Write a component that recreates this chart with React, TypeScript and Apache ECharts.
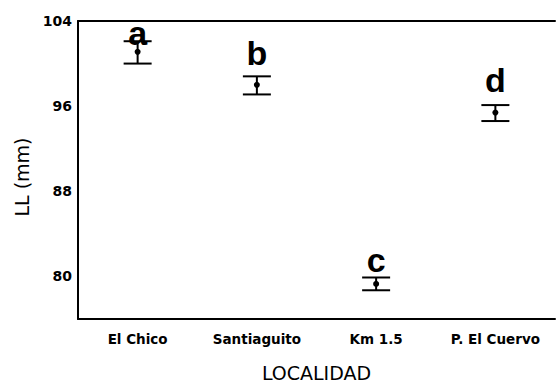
import React, { useEffect, useRef } from "react";
import * as echarts from "echarts";

const categories = ["El Chico", "Santiaguito", "Km 1.5", "P. El Cuervo"];
const means = [101.1, 98.0, 79.3, 95.4];
const lowers = [100.0, 97.1, 78.7, 94.6];
const uppers = [102.1, 98.8, 79.9, 96.1];
const letters = ["a", "b", "c", "d"];
const letterValues = [102.9, 101.0, 81.5, 98.5];
const yTicks = [80, 88, 96, 104];

const tickFont = "'DejaVu Sans', sans-serif";

export default function App() {
  const ref = useRef<HTMLDivElement>(null);
  useEffect(() => {
    document.body.style.margin = "0";
    const chart = echarts.init(ref.current!, null, { renderer: "svg" });
    const axisLine = { show: true, lineStyle: { color: "#000", width: 2 } };
    chart.setOption({
      animation: false,
      backgroundColor: "#fff",
      grid: { left: 78, right: 2, top: 21, bottom: 66 },
      xAxis: [
        {
          type: "category",
          data: categories,
          boundaryGap: true,
          axisLine,
          axisTick: { show: false },
          axisLabel: { color: "#000", fontSize: 13.5, fontFamily: tickFont, fontWeight: "bold", margin: 13 },
          name: "LOCALIDAD",
          nameLocation: "middle",
          nameGap: 44,
          nameTextStyle: { color: "#000", fontSize: 19, fontFamily: tickFont },
          splitLine: { show: false },
        },
        {
          type: "category",
          data: categories,
          position: "top",
          axisLine,
          axisTick: { show: false },
          axisLabel: { show: false },
          splitLine: { show: false },
        },
      ],
      yAxis: {
        type: "value",
        min: 76,
        max: 104,
        axisLine,
        axisTick: { show: false },
        splitLine: { show: false },
        axisLabel: {
          color: "#000",
          fontSize: 14,
          fontFamily: tickFont,
          fontWeight: "bold",
          margin: 6,
          customValues: yTicks,
        },
        name: "LL (mm)",
        nameLocation: "middle",
        nameGap: 47,
        nameTextStyle: { color: "#000", fontSize: 19, fontFamily: tickFont, padding: [0, 14, 0, 0] },
      },
      series: [
        {
          type: "custom",
          data: categories.map((_, i) => [i, means[i], lowers[i], uppers[i], letterValues[i]]),
          renderItem: (params: any, api: any) => {
            const idx = api.value(0);
            const m = api.coord([idx, api.value(1)]);
            const lo = api.coord([idx, api.value(2)]);
            const hi = api.coord([idx, api.value(3)]);
            const lt = api.coord([idx, api.value(4)]);
            const half = 14;
            const st = { stroke: "#000", lineWidth: 2 };
            return {
              type: "group",
              children: [
                { type: "line", shape: { x1: hi[0], y1: hi[1], x2: lo[0], y2: lo[1] }, style: st },
                { type: "line", shape: { x1: hi[0] - half, y1: hi[1], x2: hi[0] + half, y2: hi[1] }, style: st },
                { type: "line", shape: { x1: lo[0] - half, y1: lo[1], x2: lo[0] + half, y2: lo[1] }, style: st },
                { type: "circle", shape: { cx: m[0], cy: m[1], r: 3 }, style: { fill: "#000" } },
                {
                  type: "text",
                  x: lt[0],
                  y: lt[1],
                  style: {
                    text: letters[params.dataIndex],
                    fill: "#000",
                    fontSize: 34,
                    fontFamily: "'Liberation Sans', Arial, sans-serif",
                    fontWeight: "bold",
                    align: "center",
                    verticalAlign: "middle",
                  },
                },
              ],
            };
          },
          z: 3,
        },
      ],
    });
    return () => chart.dispose();
  }, []);
  return <div ref={ref} style={{ width: 557, height: 387 }} />;
}
